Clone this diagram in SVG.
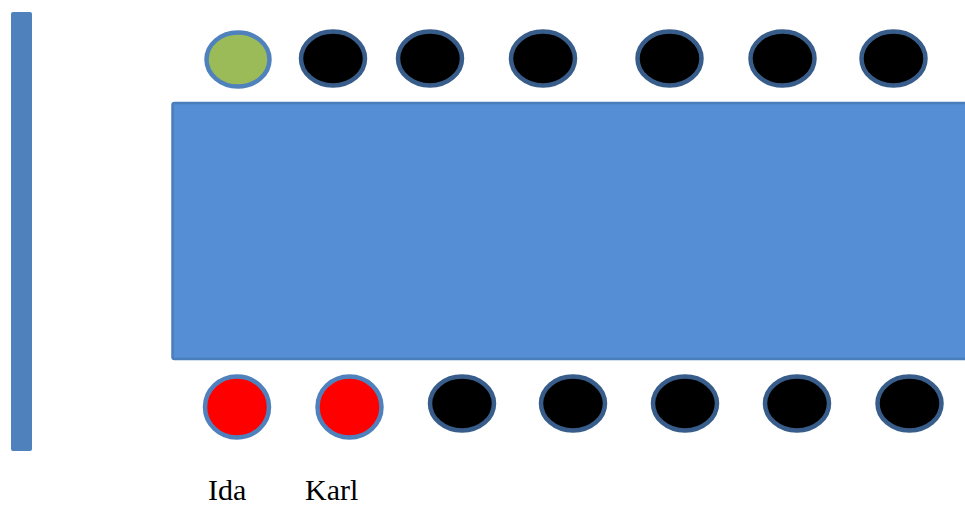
<svg xmlns="http://www.w3.org/2000/svg" width="965" height="506" viewBox="0 0 965 506">
<style>
.seat{fill:#000;stroke:#385D8A;stroke-width:4.5}
.green{fill:#9BBB59;stroke:#4F81BD;stroke-width:4.5}
.red{fill:#FF0000;stroke:#4F81BD;stroke-width:4.5}
.lbl{font-family:"Liberation Serif","Times New Roman",serif;font-size:30px;fill:#000}
</style>
<g id="wall"><rect x="11" y="12" width="21" height="439" rx="2" fill="#4F81BD"/></g>
<g id="table"><rect x="172.5" y="103" width="800" height="256" rx="2" fill="#558ED5" stroke="#4A7EBB" stroke-width="2.5"/></g>
<g id="top-row">
<ellipse id="t1" class="green" cx="238" cy="59.5" rx="31.5" ry="27"/>
<ellipse id="t2" class="seat" cx="333" cy="58.5" rx="32" ry="27"/>
<ellipse id="t3" class="seat" cx="430" cy="58.5" rx="32" ry="27"/>
<ellipse id="t4" class="seat" cx="543" cy="58.5" rx="32" ry="27"/>
<ellipse id="t5" class="seat" cx="669.5" cy="58.5" rx="32" ry="27"/>
<ellipse id="t6" class="seat" cx="782.5" cy="58.5" rx="32" ry="27"/>
<ellipse id="t7" class="seat" cx="893.5" cy="58.5" rx="32" ry="27"/>
</g>
<g id="bottom-row">
<ellipse id="b1" class="red" cx="237" cy="407" rx="32" ry="30.5"/>
<ellipse id="b2" class="red" cx="349.5" cy="407" rx="32" ry="30.5"/>
<ellipse id="b3" class="seat" cx="462" cy="403.5" rx="32" ry="27"/>
<ellipse id="b4" class="seat" cx="573" cy="403.5" rx="32" ry="27"/>
<ellipse id="b5" class="seat" cx="685" cy="403.5" rx="32" ry="27"/>
<ellipse id="b6" class="seat" cx="797" cy="403.5" rx="32" ry="27"/>
<ellipse id="b7" class="seat" cx="909.5" cy="403.5" rx="32" ry="27"/>
</g>
<g id="labels">
<text class="lbl" x="208" y="500">Ida</text>
<text class="lbl" x="305" y="500">Karl</text>
</g>
<g id="connectors"/>
</svg>
